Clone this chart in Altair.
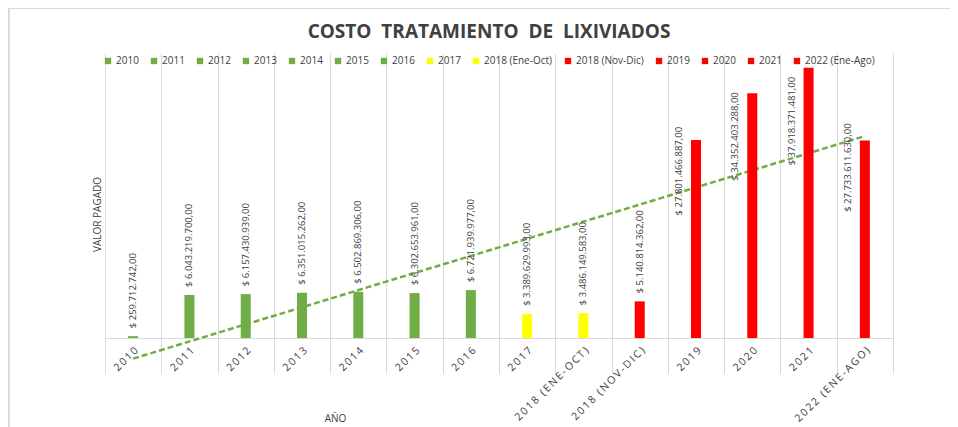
import altair as alt
import pandas as pd

categories = ["2010", "2011", "2012", "2013", "2014", "2015", "2016", "2017",
              "2018 (Ene-Oct)", "2018 (Nov-Dic)", "2019", "2020", "2021", "2022 (Ene-Ago)"]
values = [259712742, 6043219700, 6157430939, 6351015262, 6502869306, 6302653961,
          6721939977, 3389629993, 3486149583, 5140814362, 27801466887, 34352403288,
          37918371481, 27733611630]
colors = ["#70AD47"] * 7 + ["#FFFF00"] * 2 + ["#FF0000"] * 5


def fmt(v):
    s = f"{v:,.2f}"
    return "$ " + s.replace(",", "X").replace(".", ",").replace("X", ".")


df = pd.DataFrame({
    "cat": categories,
    "value": values,
    "label": [fmt(v) for v in values],
    "idx": list(range(1, len(categories) + 1)),
})

FONT = "Open Sans"
GRID = "#d9d9d9"
TXT = "#404040"

x_band = alt.X(
    "cat:N", sort=categories,
    scale=alt.Scale(paddingInner=0, paddingOuter=0),
    axis=alt.Axis(title="AÑO", labelAngle=-45,
                  labelExpr="join(split(upper(datum.label), ''), '\u2009')",
                  grid=False, ticks=False, domainColor=GRID, domainWidth=1,
                  labelFont=FONT, labelFontSize=10.5, labelColor=TXT,
                  labelPadding=7, labelOverlap=False,
                  titleFont=FONT, titleFontSize=10, titleFontWeight="normal",
                  titleColor=TXT, titleX=230, titleY=80,
                  titleAlign="center", titleBaseline="middle", orient="bottom"),
)
x_plain = alt.X("cat:N", sort=categories)

y_enc = alt.Y(
    "value:Q",
    scale=alt.Scale(domain=[0, 40e9], nice=False),
    axis=alt.Axis(title="VALOR PAGADO", labels=False, ticks=False, domain=False,
                  grid=False, titleFont=FONT, titleFontSize=10,
                  titleFontWeight="normal", titleColor=TXT,
                  titleX=-8, titleY=161, titleAlign="center",
                  titleBaseline="middle"),
)

base = alt.Chart(df)

bars = base.mark_bar(size=10).encode(
    x=x_band,
    y=y_enc,
    color=alt.Color(
        "cat:N", sort=categories,
        scale=alt.Scale(domain=categories, range=colors),
        legend=alt.Legend(
            title=None, orient="none", legendX=-2, legendY=3,
            direction="horizontal", columns=14, symbolType="square",
            symbolSize=40, symbolStrokeWidth=0, labelFont=FONT,
            labelFontSize=10, labelColor=TXT, columnPadding=10,
            labelOffset=3),
    ),
)

small_labels = base.transform_filter("datum.value < 20e9").mark_text(
    angle=270, align="left", baseline="middle", dx=8,
    font=FONT, fontSize=9.5, color=TXT,
).encode(x=x_plain, y="value:Q", text="label:N")

big_labels = base.transform_filter("datum.value >= 20e9").mark_text(
    angle=270, align="right", baseline="middle",
    dx=alt.ExprRef("datum.value > 37e9 ? -9 : datum.value > 30e9 ? 1 : datum.value > 27.75e9 ? 13 : 17"),
    dy=-17,
    font=FONT, fontSize=9.5, color=TXT,
).encode(x=x_plain, y="value:Q", text="label:N")

bar_layer = alt.layer(bars, small_labels, big_labels)

trend = base.transform_regression(
    "idx", "value", method="linear", extent=[1, len(categories)]
).mark_line(strokeDash=[6, 3], strokeWidth=2.5, color="#70AD47").encode(
    x=alt.X("idx:Q",
            scale=alt.Scale(domain=[0.5, len(categories) + 0.5], nice=False, zero=False),
            axis=alt.Axis(values=[i + 0.5 for i in range(len(categories) + 1)],
                          labels=False, domain=False, grid=True, gridColor=GRID,
                          ticks=True, tickSize=35, tickColor=GRID, title=None,
                          orient="bottom")),
    y="value:Q",
)

# chart-area frame (top and left edges, as in the reference screenshot)
frame_top = alt.Chart(df).mark_rule(color=GRID, strokeWidth=1).encode(
    x=alt.value(-96), x2=alt.value(845), y=alt.value(-44.5))
frame_left = alt.Chart(df).mark_rule(color=GRID, strokeWidth=1).encode(
    x=alt.value(-96), y=alt.value(-44.5), y2=alt.value(380))

chart = alt.layer(frame_top, frame_left, trend, bar_layer).resolve_scale(
    x="independent"
).properties(
    width=788, height=285,
    title=alt.Title("COSTO\u00a0\u00a0TRATAMIENTO\u00a0\u00a0DE\u00a0\u00a0LIXIVIADOS",
                    font=FONT, fontSize=19, fontWeight="bold", color=TXT,
                    anchor="middle", frame="group", offset=-34, dx=-10),
    autosize=alt.AutoSizeParams(type="none"),
    padding={"left": 97, "top": 45, "right": 57, "bottom": 89},
).configure_view(stroke=None)

chart.save("out.html", embed_options={"renderer": "svg", "actions": False})
